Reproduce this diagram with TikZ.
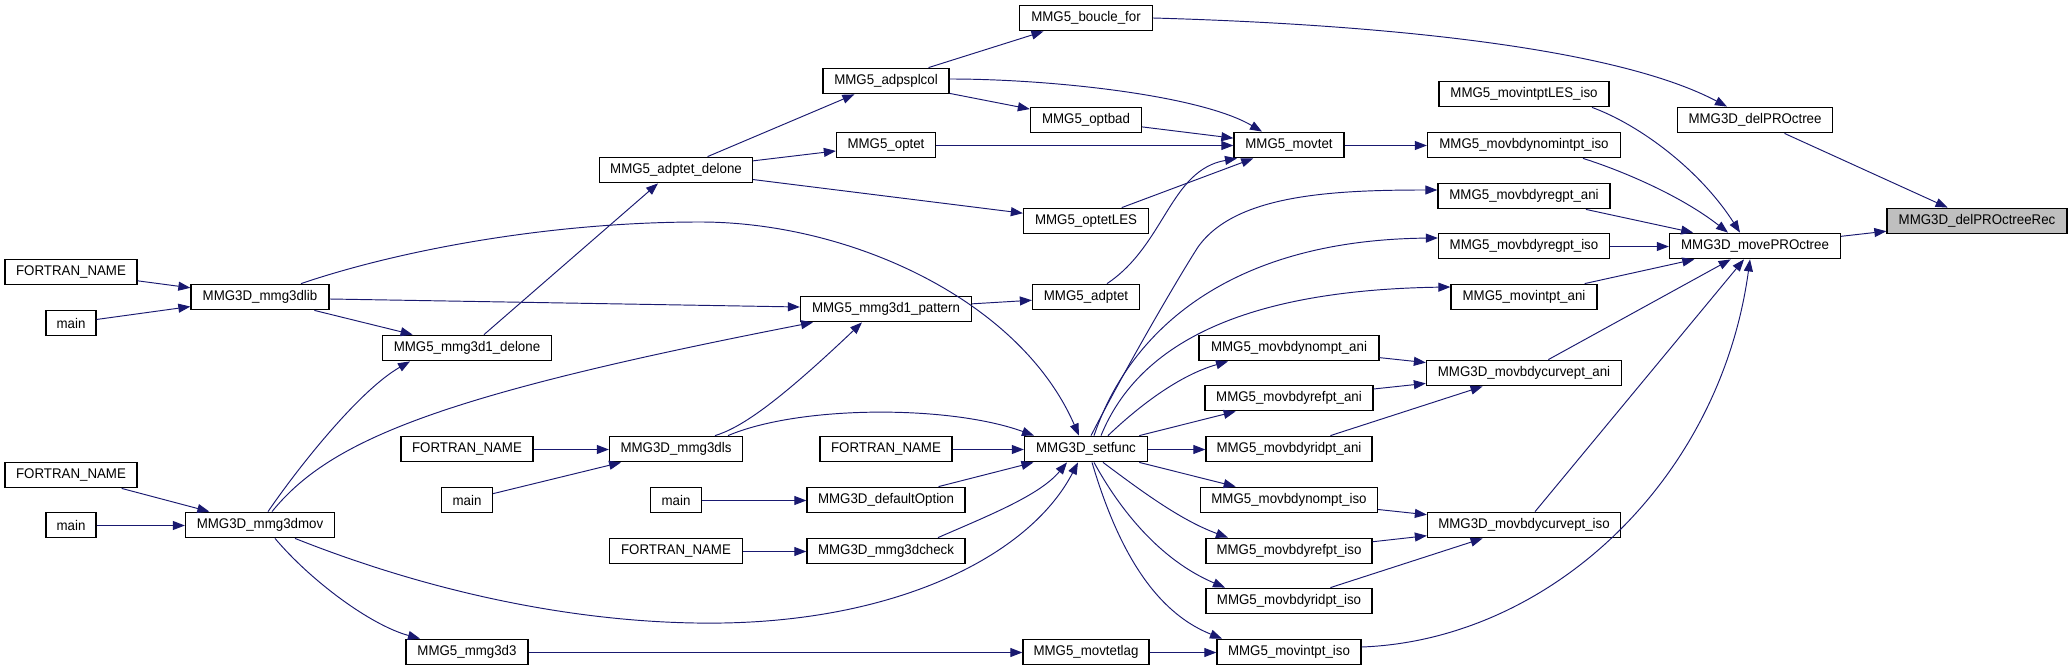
\documentclass[tikz,border=0pt]{standalone}
\usepackage{fontspec}
\setmainfont{Liberation Sans}[FakeStretch=0.95]
\usetikzlibrary{arrows.meta}
\definecolor{edgec}{HTML}{191970}
\definecolor{recfill}{HTML}{BFBFBF}
\tikzset{
  fn/.style={draw=black, line width=1.3pt, inner sep=0pt, minimum height=25.5pt,
    font=\fontsize{14}{16}\selectfont, anchor=center, fill=white},
  e/.style={draw=edgec, line width=0.95pt, -{Triangle[length=12pt,width=9pt]}}
}
\begin{document}
\begin{tikzpicture}[x=1pt,y=-1pt]
\fill[white] (0,0) rectangle (2072,671);
\useasboundingbox (0,0) rectangle (2072,671);

% column 1
\node[fn, minimum width=132pt] (fnA) at (71,272) {FORTRAN\_NAME};
\node[fn, minimum width=50pt] (mainA) at (71,323) {main};
\node[fn, minimum width=132pt] (fnB) at (71,475) {FORTRAN\_NAME};
\node[fn, minimum width=50pt] (mainB) at (71,525) {main};
% column 2
\node[fn, minimum width=138pt] (mmg3dlib) at (260,297) {MMG3D\_mmg3dlib};
\node[fn, minimum width=149pt] (mmg3dmov) at (260,525) {MMG3D\_mmg3dmov};
% column 3
\node[fn, minimum width=169pt] (delone1) at (467,348) {MMG5\_mmg3d1\_delone};
\node[fn, minimum width=132pt] (fnC) at (467,449) {FORTRAN\_NAME};
\node[fn, minimum width=51pt] (mainC) at (467,500) {main};
\node[fn, minimum width=122pt] (mmg3d3) at (467,652) {MMG5\_mmg3d3};
% column 4
\node[fn, minimum width=153pt] (adptetdel) at (676,170) {MMG5\_adptet\_delone};
\node[fn, minimum width=133pt] (mmg3dls) at (676,449) {MMG3D\_mmg3dls};
\node[fn, minimum width=51pt] (mainD) at (676,500) {main};
\node[fn, minimum width=133pt] (fnD) at (676,551) {FORTRAN\_NAME};
% column 5
\node[fn, minimum width=126pt] (adpsplcol) at (886,81) {MMG5\_adpsplcol};
\node[fn, minimum width=99pt] (optet) at (886,145) {MMG5\_optet};
\node[fn, minimum width=171pt] (pattern) at (886,309) {MMG5\_mmg3d1\_pattern};
\node[fn, minimum width=132pt] (fnE) at (886,449) {FORTRAN\_NAME};
\node[fn, minimum width=158pt] (defopt) at (886,500) {MMG3D\_defaultOption};
\node[fn, minimum width=158pt] (mmg3dcheck) at (886,551) {MMG3D\_mmg3dcheck};
% column 6
\node[fn, minimum width=133pt] (boucle) at (1086,18) {MMG5\_boucle\_for};
\node[fn, minimum width=111pt] (optbad) at (1086,120) {MMG5\_optbad};
\node[fn, minimum width=125pt] (optetLES) at (1086,221) {MMG5\_optetLES};
\node[fn, minimum width=107pt] (adptet) at (1086,297) {MMG5\_adptet};
\node[fn, minimum width=123pt] (setfunc) at (1086,449) {MMG3D\_setfunc};
\node[fn, minimum width=126pt] (movtetlag) at (1086,652) {MMG5\_movtetlag};
% column 7
\node[fn, minimum width=110pt] (movtet) at (1289,145) {MMG5\_movtet};
\node[fn, minimum width=180pt] (nomptani) at (1289,348) {MMG5\_movbdynompt\_ani};
\node[fn, minimum width=168pt] (refptani) at (1289,398) {MMG5\_movbdyrefpt\_ani};
\node[fn, minimum width=166pt] (ridptani) at (1289,449) {MMG5\_movbdyridpt\_ani};
\node[fn, minimum width=177pt] (nomptiso) at (1289,500) {MMG5\_movbdynompt\_iso};
\node[fn, minimum width=166pt] (refptiso) at (1289,551) {MMG5\_movbdyrefpt\_iso};
\node[fn, minimum width=166pt] (ridptiso) at (1289,601) {MMG5\_movbdyridpt\_iso};
\node[fn, minimum width=144pt] (intptiso) at (1289,652) {MMG5\_movintpt\_iso};
% column 8
\node[fn, minimum width=170pt] (intLES) at (1524,94) {MMG5\_movintptLES\_iso};
\node[fn, minimum width=193pt] (nomint) at (1524,145) {MMG5\_movbdynomintpt\_iso};
\node[fn, minimum width=172pt] (regptani) at (1524,196) {MMG5\_movbdyregpt\_ani};
\node[fn, minimum width=171pt] (regptiso) at (1524,246) {MMG5\_movbdyregpt\_iso};
\node[fn, minimum width=146pt] (intptani) at (1524,297) {MMG5\_movintpt\_ani};
\node[fn, minimum width=195pt] (curveani) at (1524,373) {MMG3D\_movbdycurvept\_ani};
\node[fn, minimum width=193pt] (curveiso) at (1524,525) {MMG3D\_movbdycurvept\_iso};
% column 9
\node[fn, minimum width=155pt] (delPRO) at (1755,120) {MMG3D\_delPROctree};
\node[fn, minimum width=171pt] (movePRO) at (1755,246) {MMG3D\_movePROctree};
% column 10
\node[fn, minimum width=180pt, fill=recfill] (delPROrec) at (1977,221) {MMG3D\_delPROctreeRec};

% edges
\draw[e] (fnA) -- (mmg3dlib);
\draw[e] (mainA) -- (mmg3dlib);
\draw[e] (fnB) -- (mmg3dmov);
\draw[e] ([yshift=-0.5pt]mainB.east) -- ([yshift=-0.5pt]mmg3dmov.west);
\draw[e] (mmg3dlib) -- (delone1);
\draw[e] ([xshift=8pt]mmg3dmov.north) .. controls (300,465) and (360,390) .. ([xshift=-57pt]delone1.south);
\draw[e] ([yshift=-2pt]mmg3dlib.east) -- ([yshift=2pt]pattern.west);
\draw[e] ([xshift=12pt]mmg3dmov.north) .. controls (330,440) and (440,395) .. ([xshift=-73pt]pattern.south);
\draw[e] ([xshift=15pt]mmg3dmov.south) .. controls (310,580) and (370,625) .. ([xshift=-47pt]mmg3d3.north);
\draw[e] ([xshift=35pt]mmg3dmov.south) .. controls (450,600) and (600,625) .. (723,623) .. controls (900,620) and (1030,555) .. ([xshift=-8pt]setfunc.south);
\draw[e] ([xshift=41pt]mmg3dlib.north) .. controls (400,250) and (550,222) .. (700,222) .. controls (850,222) and (1020,300) .. ([xshift=-7pt]setfunc.north);
\draw[e] ([xshift=17pt]delone1.north) -- ([xshift=-18pt]adptetdel.south);
\draw[e] ([yshift=-0.5pt]fnC.east) -- ([yshift=-0.5pt]mmg3dls.west);
\draw[e] (mainC) -- (mmg3dls);
\draw[e] ([xshift=39pt]mmg3dls.north) .. controls (740,428) and (775,405) .. ([xshift=-24pt]pattern.south);
\draw[e] ([xshift=52pt]mmg3dls.north) .. controls (800,405) and (950,405) .. ([xshift=-52pt]setfunc.north);
\draw[e] ([yshift=-0.5pt]mainD.east) -- ([yshift=-0.5pt]defopt.west);
\draw[e] ([yshift=-0.5pt]fnD.east) -- ([yshift=-0.5pt]mmg3dcheck.west);
\draw[e] ([yshift=-0.5pt]fnE.east) -- ([yshift=-0.5pt]setfunc.west);
\draw[e] (defopt) -- (setfunc);
\draw[e] ([xshift=52pt]mmg3dcheck.north) .. controls (990,515) and (1040,495) .. ([xshift=-19pt]setfunc.south);
\draw[e] ([yshift=-0.5pt]mmg3d3.east) -- ([yshift=-0.5pt]movtetlag.west);
\draw[e] (adptetdel) -- (adpsplcol);
\draw[e] (adptetdel) -- (optet);
\draw[e] (adptetdel) -- (optetLES);
\draw[e] (adpsplcol) -- (boucle);
\draw[e] (adpsplcol) -- (optbad);
\draw[e] ([yshift=2pt]adpsplcol.east) .. controls (1050,79) and (1200,95) .. ([xshift=-27pt]movtet.north);
\draw[e] (optbad) -- (movtet);
\draw[e] ([yshift=-0.5pt]optet.east) -- ([yshift=-0.5pt]movtet.west);
\draw[e] (optetLES) -- (movtet);
\draw[e] (pattern) -- (adptet);
\draw[e] ([xshift=21pt]adptet.north) .. controls (1165,245) and (1170,170) .. ([xshift=-52pt]movtet.south);
\draw[e] ([xshift=5pt]setfunc.north) .. controls (1130,360) and (1180,275) .. (1198,247) .. controls (1235,195) and (1330,190) .. ([yshift=6pt]regptani.west);
\draw[e] ([xshift=8pt]setfunc.north) .. controls (1130,330) and (1230,240) .. ([yshift=8pt]regptiso.west);
\draw[e] ([xshift=15pt]setfunc.north) .. controls (1140,340) and (1250,290) .. ([yshift=10pt]intptani.west);
\draw[e] ([xshift=22pt]setfunc.north) .. controls (1140,405) and (1180,375) .. ([xshift=-61pt]nomptani.south);
\draw[e] (setfunc) -- (refptani);
\draw[e] ([yshift=-0.5pt]setfunc.east) -- ([yshift=-0.5pt]ridptani.west);
\draw[e] (setfunc) -- (nomptiso);
\draw[e] ([xshift=17pt]setfunc.south) .. controls (1140,490) and (1180,520) .. ([xshift=-61pt]refptiso.north);
\draw[e] ([xshift=8pt]setfunc.south) .. controls (1120,510) and (1160,560) .. ([xshift=-64pt]ridptiso.north);
\draw[e] ([xshift=6pt]setfunc.south) .. controls (1115,540) and (1150,610) .. ([xshift=-67pt]intptiso.north);
\draw[e] ([yshift=-0.5pt]movtetlag.east) -- ([yshift=-0.5pt]intptiso.west);
\draw[e] ([yshift=-0.5pt]movtet.east) -- ([yshift=-0.5pt]nomint.west);
\draw[e] (boucle.east) .. controls (1400,25) and (1620,50) .. ([xshift=-28pt]delPRO.north);
\draw[e] ([xshift=68pt]intLES.south) .. controls (1640,125) and (1700,170) .. ([xshift=-15pt]movePRO.north);
\draw[e] ([xshift=59pt]nomint.south) .. controls (1620,170) and (1680,195) .. ([xshift=-27pt]movePRO.north);
\draw[e] (regptani) -- (movePRO);
\draw[e] ([yshift=-0.5pt]regptiso.east) -- ([yshift=-0.5pt]movePRO.west);
\draw[e] (intptani) -- (movePRO);
\draw[e] (nomptani) -- (curveani);
\draw[e] (refptani) -- (curveani);
\draw[e] (ridptani) -- (curveani);
\draw[e] (nomptiso) -- (curveiso);
\draw[e] (refptiso) -- (curveiso);
\draw[e] (ridptiso) -- (curveiso);
\draw[e] (curveani) -- (movePRO);
\draw[e] (curveiso) -- (movePRO);
\draw[e] ([yshift=5pt]intptiso.east) .. controls (1550,640) and (1720,480) .. ([xshift=-5pt]movePRO.south);
\draw[e] (delPRO) -- (delPROrec);
\draw[e] (movePRO) -- (delPROrec);
\end{tikzpicture}
\end{document}
